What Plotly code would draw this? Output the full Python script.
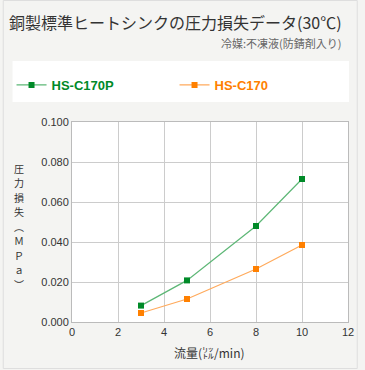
import plotly.graph_objects as go

flow = [3, 5, 8, 10]
hs_c170p = [0.0082, 0.0208, 0.048, 0.0715]
hs_c170 = [0.0045, 0.0115, 0.0265, 0.0385]
x_ticks = [0, 2, 4, 6, 8, 10, 12]
y_ticks = [0.0, 0.02, 0.04, 0.06, 0.08, 0.1]
y_title_chars = list("圧力損失︵ＭＰａ︶")

W, H = 365, 370
L, R, T, B = 71, 11, 122, 48
PW, PH = W - L - R, H - T - B


def px(x):
    return (x - L) / PW


def py(y):
    return (H - B - y) / PH


GREEN = "#008a28"
ORANGE = "#ff8000"
JP = "Noto Sans CJK JP"
LAT = "Liberation Sans, Arial, sans-serif"

fig = go.Figure()
fig.add_trace(go.Scatter(
    x=flow, y=hs_c170p, mode="lines+markers",
    name="<span style='color:%s'><b>HS-C170P</b></span>" % GREEN,
    line=dict(color="#5db776", width=1.2),
    marker=dict(symbol="square", size=6, color=GREEN),
))
fig.add_trace(go.Scatter(
    x=flow, y=hs_c170, mode="lines+markers",
    name="<span style='color:%s'><b>HS-C170</b></span>" % ORANGE,
    line=dict(color="#ffaa5c", width=1.2),
    marker=dict(symbol="square", size=6, color=ORANGE),
))

shapes = [
    dict(type="rect", xref="paper", yref="paper", x0=px(0.5), x1=px(363.5), y0=py(0.5), y1=py(368.5),
         line=dict(color="#dedede", width=1), fillcolor="rgba(0,0,0,0)", layer="below"),
    dict(type="rect", xref="paper", yref="paper", x0=px(10), x1=px(355), y0=py(61), y1=py(102),
         line=dict(width=0), fillcolor="white", layer="below"),
]

annotations = [
    dict(text="銅製標準ヒートシンクの圧力損失データ(30℃)", xref="paper", yref="paper",
         x=px(350), y=py(22), xanchor="right", yanchor="middle", showarrow=False,
         font=dict(family=JP, size=16, color="#333333")),
    dict(text="冷媒:不凍液(防錆剤入り)", xref="paper", yref="paper",
         x=px(350), y=py(43), xanchor="right", yanchor="middle", showarrow=False,
         font=dict(family=JP, size=11, color="#666666")),
    dict(text="流量(㍑/min)", xref="paper", yref="paper",
         x=px(212), y=py(352), xanchor="center", yanchor="middle", showarrow=False,
         font=dict(family=JP, size=12, color="#333333")),
]
n = len(y_title_chars)
step = 14.5
for i, ch in enumerate(y_title_chars):
    annotations.append(dict(
        text=ch, xref="paper", yref="paper", x=px(17),
        y=py(226 + (i - (n - 1) / 2) * step),
        xanchor="center", yanchor="middle", showarrow=False,
        font=dict(family=JP, size=10, color="#333333")))

fig.update_layout(
    width=W, height=H,
    margin=dict(l=L, r=R, t=T, b=B, pad=0),
    paper_bgcolor="#f4f4f2", plot_bgcolor="white",
    showlegend=True,
    legend=dict(orientation="h", x=px(9), y=py(70), xanchor="left", yanchor="top",
                entrywidth=118, entrywidthmode="pixels", bgcolor="rgba(0,0,0,0)",
                font=dict(family=LAT, size=13)),
    shapes=shapes, annotations=annotations,
    xaxis=dict(range=[0, 12], tickvals=x_ticks, showgrid=True, gridcolor="#cccccc", gridwidth=1,
               showline=True, linecolor="#bbbbbb", mirror=True, zeroline=False,
               tickfont=dict(family=LAT, size=11, color="#333333"), fixedrange=True),
    yaxis=dict(range=[0, 0.1], tickvals=y_ticks, tickformat=".3f", showgrid=True,
               gridcolor="#cccccc", gridwidth=1, showline=True, linecolor="#bbbbbb", mirror=True,
               zeroline=False, tickfont=dict(family=LAT, size=11, color="#333333"), fixedrange=True),
)

fig.write_html("out.html")
